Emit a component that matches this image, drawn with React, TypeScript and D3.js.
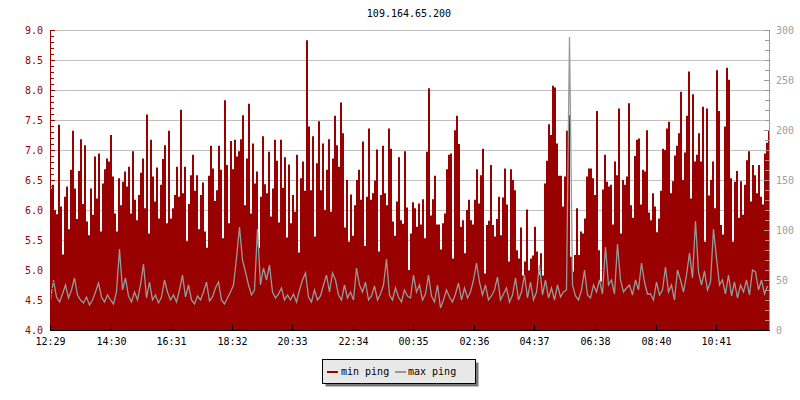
import React from 'react';
import * as d3 from 'd3';

const title = '109.164.65.200';
const seriesNames = ['min ping', 'max ping'];
const timeLabels = ['12:29', '14:30', '16:31', '18:32', '20:33', '22:34', '00:35', '02:36', '04:37', '06:38', '08:40', '10:41'];
const leftMajorTicks = [4.0, 4.5, 5.0, 5.5, 6.0, 6.5, 7.0, 7.5, 8.0, 8.5, 9.0];
const rightMajorTicks = [0, 50, 100, 150, 200, 250, 300];

// min ping (left axis), one value per 4 minutes
const minPing = [
  6.36,6.42,6.00,5.93,7.42,6.06,5.26,6.22,6.39,5.68,
  6.67,7.32,6.36,5.85,6.65,7.18,6.10,7.08,5.81,5.58,
  6.36,5.92,6.89,6.19,6.94,5.64,6.44,6.68,6.86,6.81,
  7.25,6.56,5.94,5.64,6.53,6.08,6.47,6.64,6.39,6.72,
  5.94,6.98,6.17,5.83,6.25,6.62,6.86,6.03,7.59,5.61,
  7.17,6.56,6.14,6.71,5.86,6.42,6.85,7.08,5.78,7.32,
  5.86,6.03,6.25,6.72,6.22,7.67,6.28,6.72,5.48,6.10,
  6.58,6.92,6.32,6.58,5.68,6.25,6.46,5.64,5.37,6.57,
  7.07,6.69,6.15,6.33,7.07,6.67,5.53,7.83,6.75,5.78,
  7.15,6.68,7.17,6.89,6.98,7.18,7.58,6.08,6.86,7.77,
  5.94,7.11,6.44,6.64,5.37,6.22,7.23,6.43,6.28,6.97,
  5.89,6.36,7.17,6.82,5.79,7.17,6.37,6.88,5.54,6.76,
  5.78,6.25,5.97,6.92,5.29,6.53,6.81,6.32,8.83,7.39,
  6.33,7.23,5.56,6.78,7.48,6.33,7.11,6.00,6.67,7.18,
  5.97,6.86,7.57,7.08,6.72,7.79,7.28,5.71,6.50,5.47,
  6.26,5.57,6.08,6.50,6.67,6.17,7.14,5.40,6.22,7.36,
  6.17,6.28,6.49,7.01,5.31,6.25,7.07,6.28,6.08,7.36,
  7.02,5.81,5.57,6.14,6.88,5.83,5.77,6.98,6.04,5.00,
  5.61,6.13,6.03,5.72,6.11,5.76,6.18,5.53,6.97,8.03,
  5.91,6.18,6.57,5.76,5.76,5.34,5.78,5.94,6.68,6.92,
  6.94,5.19,7.33,7.57,7.10,5.72,5.83,5.28,6.00,6.17,
  5.83,5.76,6.17,6.68,6.11,6.58,7.02,4.94,5.75,5.82,
  6.75,5.75,5.56,5.85,6.22,5.58,6.21,6.69,6.09,5.14,
  6.68,6.50,6.33,5.33,5.19,5.71,4.91,5.14,6.01,4.99,
  5.19,5.24,5.72,5.31,4.92,5.28,4.91,6.44,6.82,7.43,
  7.25,8.07,8.04,7.11,6.57,6.57,6.06,6.56,7.32,7.58,
  5.22,4.97,5.25,6.03,5.25,5.64,5.61,5.86,6.56,6.69,
  6.69,6.53,6.25,7.65,5.33,4.81,6.34,6.92,6.47,6.39,
  6.42,5.76,6.81,6.58,7.69,5.61,6.50,6.42,6.56,7.78,
  6.08,5.87,6.90,7.17,7.19,6.09,6.67,6.64,7.33,5.96,
  5.83,6.28,6.06,5.63,5.86,6.32,7.02,7.00,7.36,7.47,
  6.28,6.48,6.91,7.07,7.28,7.97,6.50,6.96,7.57,8.31,
  6.19,7.93,6.81,6.92,7.28,6.81,7.72,5.47,7.69,6.24,
  6.50,6.81,6.03,8.33,7.65,5.75,5.59,7.39,8.37,8.17,
  6.53,5.47,6.47,6.65,5.87,6.48,5.92,6.42,6.83,6.98,
  6.14,6.75,6.58,6.28,6.75,6.22,6.09,6.94,7.12,7.32,
];

// max ping (right axis, ms), one value per 6 minutes
const maxPing = [
  30,50,33,28,36,45,32,40,52,35, 30,27,33,25,30,38,47,33,28,35,
  30,26,38,81,40,52,34,28,38,30, 45,66,32,48,30,35,27,33,50,38,
  30,35,28,40,55,33,45,30,26,34, 30,38,48,29,33,42,48,30,26,32,
  38,45,72,103,70,58,45,35,40,101, 45,62,50,65,38,32,36,42,30,35,
  30,36,28,40,50,57,33,28,40,30, 34,45,55,38,57,50,35,30,45,32,
  38,30,62,45,38,48,30,34,44,30, 36,45,71,35,30,42,33,28,40,34,
  32,55,38,45,30,36,55,34,28,45, 22,30,40,33,28,36,47,30,42,32,
  38,50,67,48,35,45,30,34,40,53, 30,36,42,28,35,52,30,38,55,32,
  48,30,38,65,35,50,32,42,30,45, 33,38,40,293,45,34,30,40,60,35,
  32,45,38,50,36,83,45,50,36,86, 50,38,42,45,35,50,40,67,48,36,
  36,30,48,35,40,63,38,45,30,60, 50,38,55,77,52,109,58,45,59,40,
  48,101,72,45,50,36,55,34,48,32, 45,38,50,35,60,58,40,50,36,44,
];

const TOTAL_MIN = 1440;
const START_MIN = 12 * 60 + 29;
const FONT = '"DejaVu Sans Mono", "Liberation Mono", monospace';
const RED = '#990000';
const GRAY = '#999999';

function labelOffset(label: string) {
  const [h, m] = label.split(':').map(Number);
  return (h * 60 + m - START_MIN + 1440) % 1440;
}

export default function App() {
  const x = d3.scaleLinear().domain([0, TOTAL_MIN]).range([50, 770]);
  const yL = d3.scaleLinear().domain([4, 9]).range([330, 30]);
  const yR = d3.scaleLinear().domain([0, 300]).range([330, 30]);

  const redStep = TOTAL_MIN / minPing.length;
  const redData = [...minPing, minPing[minPing.length - 1]].map((v, i) => ({ t: i * redStep, v }));
  const redArea = d3.area<{ t: number; v: number }>()
    .x(d => x(d.t))
    .y0(yL(4))
    .y1(d => yL(d.v))
    .curve(d3.curveStepAfter)(redData) || '';

  const grayStep = TOTAL_MIN / maxPing.length;
  const grayData = maxPing.map((v, i) => ({ t: i * grayStep + 1, v }));
  const grayLine = d3.line<{ t: number; v: number }>()
    .x(d => x(d.t))
    .y(d => yR(d.v))(grayData) || '';

  const leftMinor = d3.range(40, 91, 1).map(v => v / 10);
  const rightMinor = d3.range(0, 301, 10);

  return (
    <svg width={800} height={400} style={{ position: 'absolute', left: 0, top: 0, background: '#fff' }}
      fontFamily={FONT} fontSize={10}>
      <rect x={0} y={0} width={800} height={400} fill="#fff" />
      <text x={409} y={17} textAnchor="middle" fill="#000">{title}</text>

      {/* grid */}
      {leftMajorTicks.map(v => (
        <line key={'g' + v} x1={50} x2={770} y1={Math.round(yL(v)) + 0.5} y2={Math.round(yL(v)) + 0.5}
          stroke="#c0c0c0" strokeWidth={1} />
      ))}

      <path d={redArea} fill={RED} />
      <path d={grayLine} fill="none" stroke={GRAY} strokeWidth={1.3} />

      {/* left axis */}
      <line x1={50.5} x2={50.5} y1={30} y2={330} stroke={RED} />
      {leftMinor.map(v => {
        const major = Math.abs(v * 2 - Math.round(v * 2)) < 1e-6;
        const yy = Math.round(yL(v)) + 0.5;
        return <line key={'lt' + v} x1={50} x2={major ? 55 : 54} y1={yy} y2={yy} stroke={RED} />;
      })}
      {leftMajorTicks.map(v => (
        <text key={'ll' + v} x={43} y={yL(v) + 3.5} textAnchor="end" fill={RED}>{v.toFixed(1)}</text>
      ))}

      {/* right axis */}
      <line x1={769.5} x2={769.5} y1={30} y2={330} stroke={GRAY} />
      {rightMinor.map(v => {
        const yy = Math.round(yR(v)) + 0.5;
        const major = v % 50 === 0;
        return <line key={'rt' + v} x1={major ? 764 : 765} x2={770} y1={yy} y2={yy} stroke={GRAY} />;
      })}
      {rightMajorTicks.map(v => (
        <text key={'rl' + v} x={776} y={yR(v) + 3.5} textAnchor="start" fill="#a0a0a0">{v}</text>
      ))}

      {/* x axis */}
      <line x1={50} x2={770} y1={330.5} y2={330.5} stroke="#000" />
      {timeLabels.map(l => {
        const xx = Math.round(x(labelOffset(l))) + 0.5;
        return (
          <g key={'x' + l}>
            <line x1={xx} x2={xx} y1={325} y2={330} stroke="#000" />
            <text x={xx} y={345} textAnchor="middle" fill="#000">{l}</text>
          </g>
        );
      })}

      {/* legend */}
      <rect x={325.5} y={362.5} width={153} height={24} fill="#777" />
      <rect x={322.5} y={359.5} width={153} height={24} fill="#e8e8e8" stroke="#000" />
      <line x1={327} x2={338} y1={372} y2={372} stroke={RED} strokeWidth={2} />
      <text x={341} y={374.5} fill="#000">{seriesNames[0]}</text>
      <line x1={395} x2={406} y1={372} y2={372} stroke={GRAY} strokeWidth={2} />
      <text x={408} y={374.5} fill="#000">{seriesNames[1]}</text>
    </svg>
  );
}
